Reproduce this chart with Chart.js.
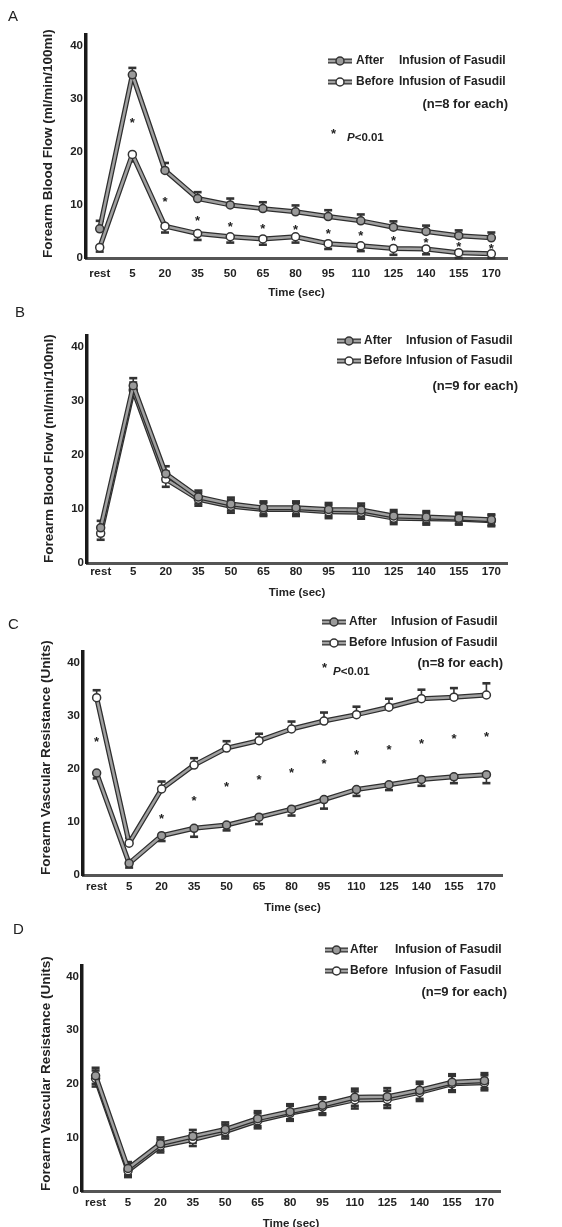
<!DOCTYPE html>
<html lang="en">
<head>
<meta charset="UTF-8">
<title>Forearm blood flow and vascular resistance before / after Fasudil</title>
<script src="https://cdn.jsdelivr.net/npm/chart.js"></script>
<style>
    html, body { margin: 0; padding: 0; background: #fff; }
    body { width: 562px; height: 1227px; position: relative; overflow: hidden; }
    canvas { position: absolute; left: 0; }
</style>
</head>
<body>
<canvas id="panelA" width="562" height="300" style="top:0px"></canvas>
<canvas id="panelB" width="562" height="300" style="top:300px"></canvas>
<canvas id="panelC" width="562" height="315" style="top:600px"></canvas>
<canvas id="panelD" width="562" height="312" style="top:915px"></canvas>
<script>
    const timeLabels = ['rest', '5', '20', '35', '50', '65', '80', '95', '110', '125', '140', '155', '170'];
    const yTicks = [0, 10, 20, 30, 40];

    // A - forearm blood flow, n=8
    const flowAfterA = [5.5, 34.5, 16.5, 11.2, 10.0, 9.3, 8.7, 7.8, 7.0, 5.8, 5.0, 4.2, 3.8];
    const flowAfterErrA = [1.5, 1.3, 1.4, 1.2, 1.2, 1.2, 1.2, 1.2, 1.2, 1.1, 1.1, 1.0, 1.0];
    const flowBeforeA = [2.0, 19.5, 6.0, 4.6, 4.0, 3.6, 4.0, 2.7, 2.3, 1.8, 1.7, 1.0, 0.8];
    const flowBeforeErrA = [0.8, 1.3, 1.2, 1.2, 1.1, 1.1, 1.1, 1.0, 1.0, 1.2, 1.0, 1.1, 1.0];
    const starsA = [null, 26, 11, 7.5, 6.3, 6.0, 5.8, 5.0, 4.7, 3.7, 3.3, 2.5, 2.1];

    // B - forearm blood flow, n=9
    const flowAfterB = [6.5, 32.8, 16.5, 12.2, 10.9, 10.2, 10.2, 9.9, 9.8, 8.7, 8.5, 8.3, 8.0];
    const flowAfterErrB = [1.3, 1.4, 1.4, 1.2, 1.2, 1.2, 1.2, 1.2, 1.2, 1.1, 1.1, 1.0, 1.0];
    const flowBeforeB = [5.5, 32.0, 15.5, 11.8, 10.5, 9.9, 9.9, 9.5, 9.4, 8.3, 8.2, 8.1, 7.8];
    const flowBeforeErrB = [1.2, 1.4, 1.4, 1.2, 1.2, 1.2, 1.2, 1.2, 1.2, 1.1, 1.1, 1.0, 1.0];

    // C - forearm vascular resistance, n=8
    const resAfterC = [19.2, 2.2, 7.4, 8.8, 9.4, 10.9, 12.4, 14.2, 16.1, 17.0, 18.0, 18.5, 18.9];
    const resAfterErrC = [1.0, 0.8, 1.0, 1.6, 1.0, 1.3, 1.2, 1.7, 1.2, 1.0, 1.2, 1.2, 1.6];
    const resBeforeC = [33.4, 6.0, 16.2, 20.7, 23.9, 25.3, 27.5, 29.0, 30.2, 31.6, 33.2, 33.5, 33.9];
    const resBeforeErrC = [1.4, 1.0, 1.4, 1.3, 1.3, 1.3, 1.4, 1.6, 1.5, 1.6, 1.7, 1.7, 2.2];
    const starsC = [25.6, null, 11.1, 14.5, 17.0, 18.4, 19.7, 21.4, 23.1, 24.1, 25.2, 26.1, 26.5];

    // D - forearm vascular resistance, n=9
    const resAfterD = [21.5, 4.2, 8.8, 10.2, 11.5, 13.5, 14.8, 16.0, 17.5, 17.6, 18.8, 20.3, 20.6];
    const resAfterErrD = [1.5, 1.2, 1.2, 1.2, 1.3, 1.4, 1.4, 1.5, 1.6, 1.6, 1.6, 1.5, 1.4];
    const resBeforeD = [21.0, 3.8, 8.4, 9.6, 11.1, 13.1, 14.5, 15.7, 17.0, 17.1, 18.4, 20.0, 20.2];
    const resBeforeErrD = [1.5, 1.2, 1.2, 1.2, 1.3, 1.4, 1.4, 1.5, 1.6, 1.6, 1.6, 1.5, 1.4];

    const afterLabel = 'After';
    const beforeLabel = 'Before';
    const infusionLabel = 'Infusion of Fasudil';
    const pNote = 'P<0.01';
    const flowTitle = 'Forearm Blood Flow (ml/min/100ml)';
    const resTitle = 'Forearm Vascular Resistance (Units)';
    const timeTitle = 'Time (sec)';

    const FONT = "'Liberation Sans', Arial, sans-serif";
    const INK = '#222';

    function pts(values) {
        return values.map((v, i) => ({x: i, y: v}));
    }

    // error bars, line outline, stars, legend and panel letter
    const panelDecor = {
        id: 'panelDecor',
        beforeDatasetsDraw(chart) {
            const {ctx, scales: {x, y}} = chart;
            ctx.save();
            ctx.strokeStyle = '#333';
            chart.data.datasets.forEach(ds => {
                ds.data.forEach((p, i) => {
                    const e = ds.err[i];
                    const px = x.getPixelForValue(p.x);
                    const ends = [];
                    if (ds.errDir === 'up' || ds.errDir === 'both') ends.push(p.y + e);
                    if (ds.errDir === 'down' || ds.errDir === 'both') ends.push(Math.max(p.y - e, 0));
                    ends.forEach(v => {
                        const y0 = y.getPixelForValue(p.y), y1 = y.getPixelForValue(v);
                        ctx.lineWidth = 1.6;
                        ctx.beginPath(); ctx.moveTo(px, y0); ctx.lineTo(px, y1); ctx.stroke();
                        ctx.lineWidth = 2.6;
                        ctx.beginPath(); ctx.moveTo(px - 4, y1); ctx.lineTo(px + 4, y1); ctx.stroke();
                    });
                });
            });
            ctx.restore();
        },
        beforeDatasetDraw(chart, args) {
            const ctx = chart.ctx;
            const els = args.meta.data;
            ctx.save();
            ctx.strokeStyle = '#2e2e2e';
            ctx.lineWidth = 5;
            ctx.lineJoin = 'round';
            ctx.beginPath();
            els.forEach((el, i) => i ? ctx.lineTo(el.x, el.y) : ctx.moveTo(el.x, el.y));
            ctx.stroke();
            ctx.restore();
        },
        afterDraw(chart, args, o) {
            const {ctx, scales: {x, y}} = chart;
            ctx.save();
            ctx.fillStyle = INK;
            // panel letter
            ctx.font = '15px ' + FONT;
            ctx.textBaseline = 'middle';
            ctx.textAlign = 'left';
            ctx.fillText(o.letter, o.letterX, o.letterY);
            // stars
            if (o.stars) {
                ctx.font = 'bold 13px ' + FONT;
                ctx.textAlign = 'center';
                o.stars.forEach((v, i) => {
                    if (v == null) return;
                    ctx.fillText('*', x.getPixelForValue(i), y.getPixelForValue(v) + 3);
                });
            }
            // legend
            const lg = o.legend;
            [[afterLabel, '#9a9a9a', lg.rowY[0]], [beforeLabel, '#fff', lg.rowY[1]]].forEach(([lab, fill, ry]) => {
                ctx.lineCap = 'butt';
                ctx.strokeStyle = '#2e2e2e';
                ctx.lineWidth = 5;
                ctx.beginPath(); ctx.moveTo(lg.symX0, ry); ctx.lineTo(lg.symX1, ry); ctx.stroke();
                ctx.strokeStyle = '#a0a0a0';
                ctx.lineWidth = 2.5;
                ctx.beginPath(); ctx.moveTo(lg.symX0, ry); ctx.lineTo(lg.symX1, ry); ctx.stroke();
                ctx.beginPath();
                ctx.arc((lg.symX0 + lg.symX1) / 2, ry, 4, 0, Math.PI * 2);
                ctx.fillStyle = fill; ctx.fill();
                ctx.strokeStyle = '#333'; ctx.lineWidth = 1.5; ctx.stroke();
                ctx.fillStyle = INK;
                ctx.font = 'bold 12px ' + FONT;
                ctx.textAlign = 'left';
                ctx.fillText(lab, lg.text1X, ry);
                ctx.fillText(infusionLabel, lg.text2X, ry);
            });
            ctx.textAlign = 'right';
            ctx.font = 'bold 13px ' + FONT;
            ctx.fillText(o.nText, lg.nRight, lg.nY);
            if (o.pNote) {
                ctx.textAlign = 'left';
                ctx.font = 'bold 13px ' + FONT;
                ctx.fillText('*', o.pNote.starX, o.pNote.y);
                ctx.font = 'italic bold 11.5px ' + FONT;
                ctx.fillText(pNote.charAt(0), o.pNote.textX, o.pNote.y + 4);
                const w = ctx.measureText(pNote.charAt(0)).width;
                ctx.font = 'bold 11.5px ' + FONT;
                ctx.fillText(pNote.slice(1), o.pNote.textX + w, o.pNote.y + 4);
            }
            ctx.restore();
        }
    };

    function makePanel(id, p) {
        const tickFont = {family: FONT, size: 11.5, weight: 'bold'};
        return new Chart(document.getElementById(id), {
            type: 'line',
            data: {
                datasets: [
                    {
                        label: afterLabel, data: pts(p.after), err: p.afterErr, errDir: p.afterDir,
                        borderColor: '#a0a0a0', borderWidth: 2.5, tension: 0,
                        pointRadius: 4, pointBackgroundColor: '#9a9a9a', pointBorderColor: '#333', pointBorderWidth: 1.5
                    },
                    {
                        label: beforeLabel, data: pts(p.before), err: p.beforeErr, errDir: p.beforeDir,
                        borderColor: '#a0a0a0', borderWidth: 2.5, tension: 0,
                        pointRadius: 4, pointBackgroundColor: '#fff', pointBorderColor: '#333', pointBorderWidth: 1.5
                    }
                ]
            },
            options: {
                responsive: false,
                animation: false,
                devicePixelRatio: 1,
                layout: {padding: {top: p.padTop, right: p.padRight, bottom: 0, left: p.padLeft}},
                plugins: {
                    legend: {display: false},
                    tooltip: {enabled: false},
                    panelDecor: p.decor
                },
                scales: {
                    x: {
                        type: 'linear', min: -0.42, max: 12.48,
                        afterBuildTicks: s => { s.ticks = timeLabels.map((_, i) => ({value: i})); },
                        afterFit: s => { s.height = p.xH; },
                        ticks: {callback: v => timeLabels[v], font: tickFont, color: INK, padding: p.xPad, autoSkip: false, maxRotation: 0},
                        grid: {display: false, drawTicks: false},
                        border: {display: true, color: '#555', width: 3},
                        title: {display: true, text: timeTitle, color: INK, font: {family: FONT, size: 11.5, weight: 'bold'}, padding: {top: 0, bottom: p.titlePad}}
                    },
                    y: {
                        min: 0, max: 42,
                        afterBuildTicks: s => { s.ticks = yTicks.map(v => ({value: v})); },
                        afterFit: s => { s.width = p.yW; },
                        ticks: {font: tickFont, color: INK, padding: 3},
                        grid: {display: false, drawTicks: false},
                        border: {display: true, color: '#1a1a1a', width: 3.5},
                        title: {display: true, text: p.yTitle, align: 'start', color: INK, font: {family: FONT, size: 13.5, weight: 'bold'}, padding: 0}
                    }
                }
            },
            plugins: [panelDecor]
        });
    }

    makePanel('panelA', {
        after: flowAfterA, afterErr: flowAfterErrA, afterDir: 'up',
        before: flowBeforeA, beforeErr: flowBeforeErrA, beforeDir: 'down',
        yTitle: flowTitle, padTop: 35, padLeft: 40, padRight: 55, yW: 46, xH: 42, xPad: 9, titlePad: 0,
        decor: {
            letter: 'A', letterX: 8, letterY: 17, stars: starsA, nText: '(n=8 for each)',
            legend: {symX0: 328, symX1: 352, rowY: [61, 82], text1X: 356, text2X: 399, nRight: 508, nY: 104},
            pNote: {starX: 331, textX: 347, y: 134}
        }
    });

    makePanel('panelB', {
        after: flowAfterB, afterErr: flowAfterErrB, afterDir: 'both',
        before: flowBeforeB, beforeErr: flowBeforeErrB, beforeDir: 'both',
        yTitle: flowTitle, padTop: 36, padLeft: 41, padRight: 55, yW: 46, xH: 37, xPad: 2, titlePad: 0,
        decor: {
            letter: 'B', letterX: 15, letterY: 13, stars: null, nText: '(n=9 for each)',
            legend: {symX0: 337, symX1: 361, rowY: [41, 61], text1X: 364, text2X: 406, nRight: 518, nY: 86},
            pNote: null
        }
    });

    makePanel('panelC', {
        after: resAfterC, afterErr: resAfterErrC, afterDir: 'down',
        before: resBeforeC, beforeErr: resBeforeErrC, beforeDir: 'up',
        yTitle: resTitle, padTop: 52, padLeft: 38, padRight: 60, yW: 45, xH: 40, xPad: 5, titlePad: 0,
        decor: {
            letter: 'C', letterX: 8, letterY: 25, stars: starsC, nText: '(n=8 for each)',
            legend: {symX0: 322, symX1: 346, rowY: [22, 43], text1X: 349, text2X: 391, nRight: 503, nY: 63},
            pNote: {starX: 322, textX: 333, y: 68}
        }
    });

    makePanel('panelD', {
        after: resAfterD, afterErr: resAfterErrD, afterDir: 'both',
        before: resBeforeD, beforeErr: resBeforeErrD, beforeDir: 'both',
        yTitle: resTitle, padTop: 51, padLeft: 38, padRight: 62, yW: 44, xH: 36, xPad: 5, titlePad: -4,
        decor: {
            letter: 'D', letterX: 13, letterY: 15, stars: null, nText: '(n=9 for each)',
            legend: {symX0: 325, symX1: 348, rowY: [35, 56], text1X: 350, text2X: 395, nRight: 507, nY: 77},
            pNote: null
        }
    });
</script>
</body>
</html>
